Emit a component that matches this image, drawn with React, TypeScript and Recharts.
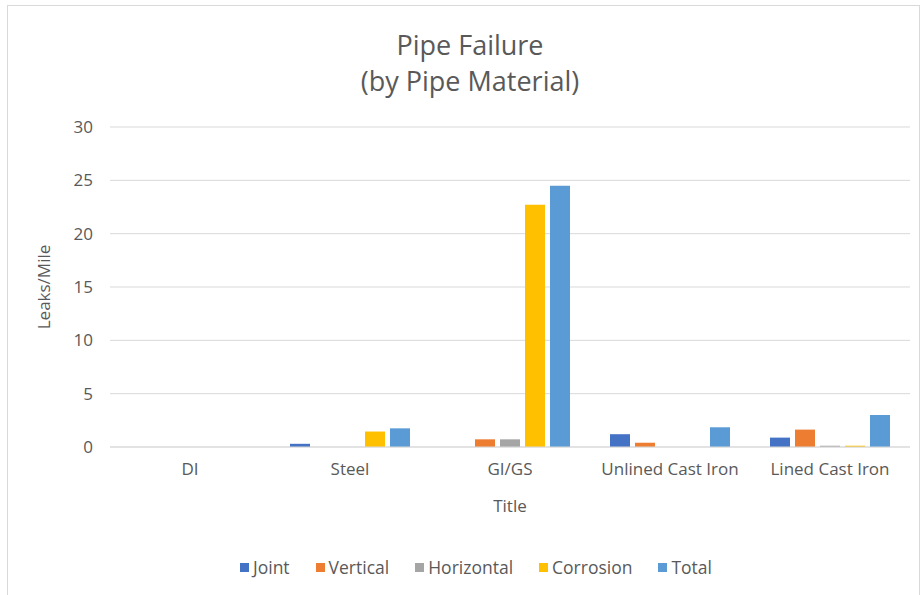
import React from "react";
import { BarChart, Bar, XAxis, YAxis, CartesianGrid, Label } from "recharts";

// Pipe materials along the category axis
const materials = ["DI", "Steel", "GI/GS", "Unlined Cast Iron", "Lined Cast Iron"];

// Leaks per mile, by failure type
const joint = [0, 0.3, 0, 1.2, 0.88];
const vertical = [0, 0, 0.72, 0.4, 1.63];
const horizontal = [0, 0, 0.72, 0, 0.12];
const corrosion = [0, 1.45, 22.7, 0, 0.12];
const total = [0, 1.75, 24.5, 1.85, 3.0];

const yTicks = [0, 5, 10, 15, 20, 25, 30];

const series = [
  { key: "Joint", values: joint, color: "#4472C4" },
  { key: "Vertical", values: vertical, color: "#ED7D31" },
  { key: "Horizontal", values: horizontal, color: "#A5A5A5" },
  { key: "Corrosion", values: corrosion, color: "#FFC000" },
  { key: "Total", values: total, color: "#5B9BD5" },
];

const rows = materials.map((name, i) => {
  const row: Record<string, string | number> = { name };
  series.forEach((s) => {
    row[s.key] = s.values[i];
  });
  return row;
});

const FONT = "'Open Sans', 'Noto Sans', sans-serif";
const TEXT = "#595959";

const XTitle = (props: any) => {
  const vb = props.viewBox || {};
  return (
    <text
      x={vb.x + vb.width / 2}
      y={vb.y + 60}
      textAnchor="middle"
      dominantBaseline="middle"
      fill={TEXT}
      fontSize={17}
      fontFamily={FONT}
    >
      Title
    </text>
  );
};

const YTitle = (props: any) => {
  const vb = props.viewBox || {};
  const cx = vb.x + 45;
  const cy = vb.y + vb.height / 2;
  return (
    <text
      x={cx}
      y={cy}
      transform={`rotate(-90 ${cx} ${cy})`}
      textAnchor="middle"
      dominantBaseline="middle"
      fill={TEXT}
      fontSize={17}
      fontFamily={FONT}
    >
      Leaks/Mile
    </text>
  );
};

export default function App() {
  return (
    <div
      style={{
        position: "absolute",
        left: 0,
        top: 0,
        width: 923,
        height: 595,
        overflow: "hidden",
        background: "#fff",
        fontFamily: FONT,
      }}
    >
      <div
        style={{
          position: "absolute",
          left: 7,
          top: 5,
          width: 913,
          height: 620,
          border: "1px solid #d9d9d9",
          boxSizing: "border-box",
        }}
      />
      <div
        style={{
          position: "absolute",
          left: 0,
          width: 940,
          top: 27,
          textAlign: "center",
          color: TEXT,
          fontSize: 27,
          lineHeight: "36px",
        }}
      >
        <div>Pipe Failure</div>
        <div>(by Pipe Material)</div>
      </div>
      <div style={{ position: "absolute", left: 0, top: 0 }}>
        <BarChart
          width={923}
          height={595}
          data={rows}
          margin={{ top: 127, right: 13, bottom: 118, left: 0 }}
          barSize={20}
          barGap={5}
        >
          <CartesianGrid vertical={false} stroke="#d9d9d9" />
          <XAxis
            dataKey="name"
            tickLine={false}
            axisLine={{ stroke: "#d9d9d9" }}
            tickSize={0}
            tickMargin={16}
            height={30}
            tick={{ fill: TEXT, fontSize: 17, fontFamily: FONT }}
            interval={0}
          >
            <Label content={XTitle} />
          </XAxis>
          <YAxis
            width={110}
            domain={[0, 30]}
            ticks={yTicks}
            tickLine={false}
            axisLine={false}
            tickSize={0}
            tickMargin={17}
            tick={{ fill: TEXT, fontSize: 17, fontFamily: FONT }}
          >
            <Label content={YTitle} />
          </YAxis>
          {series.map((s) => (
            <Bar key={s.key} dataKey={s.key} fill={s.color} isAnimationActive={false} />
          ))}
        </BarChart>
      </div>
      <div
        style={{
          position: "absolute",
          left: 3,
          width: 946,
          top: 555,
          display: "flex",
          justifyContent: "center",
          gap: 26,
          color: TEXT,
          fontSize: 17.5,
          lineHeight: "24px",
        }}
      >
        {series.map((s) => (
          <div key={s.key} style={{ display: "flex", alignItems: "center" }}>
            <span
              style={{
                display: "inline-block",
                width: 9,
                height: 9,
                background: s.color,
                marginRight: 4,
              }}
            />
            {s.key}
          </div>
        ))}
      </div>
    </div>
  );
}
